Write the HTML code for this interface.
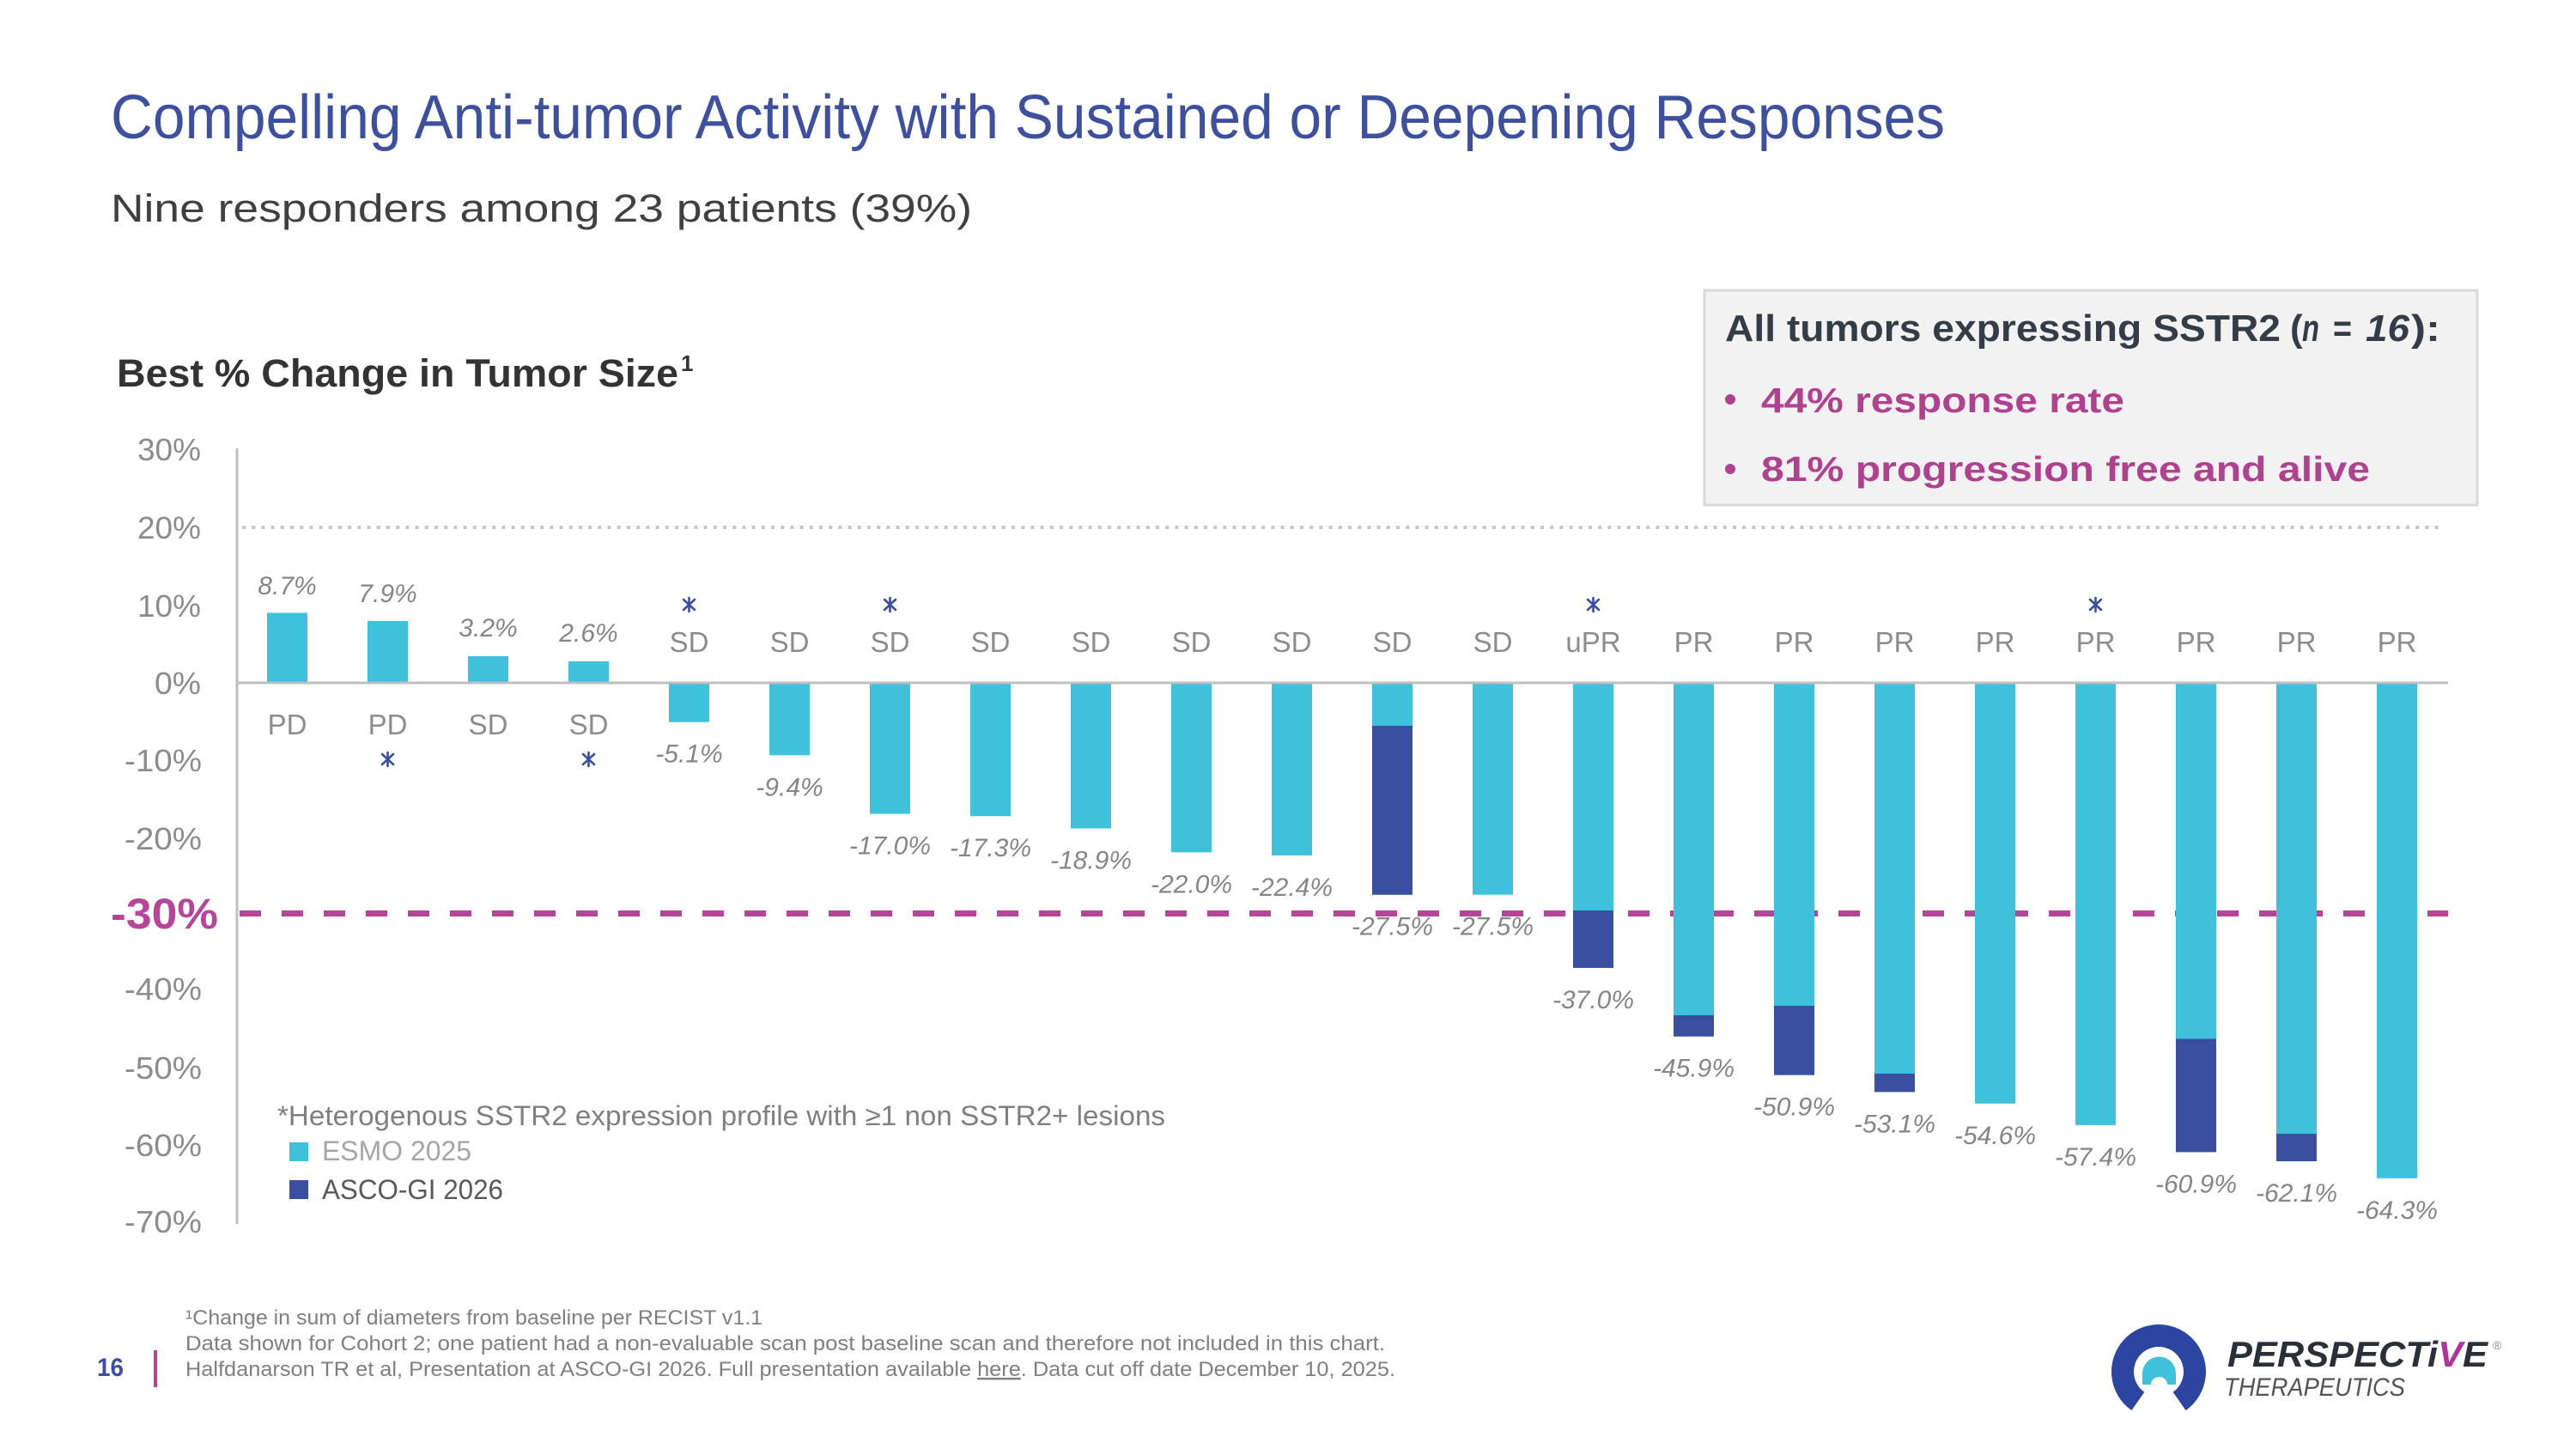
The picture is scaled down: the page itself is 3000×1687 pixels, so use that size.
<!DOCTYPE html>
<html>
<head>
<meta charset="utf-8">
<style>
  html,body{margin:0;padding:0;background:#fff;}
  svg{display:block;}
  text{font-family:"Liberation Sans", Arial, sans-serif;}
</style>
</head>
<body>
<svg xmlns="http://www.w3.org/2000/svg" width="3000" height="1687" viewBox="0 0 3000 1687">
  <rect x="0" y="0" width="3000" height="1687" fill="#ffffff"/>

  <!-- Title / subtitle -->
  <text x="129" y="161" font-size="72" fill="#3d4f9f" textLength="2136" lengthAdjust="spacingAndGlyphs">Compelling Anti-tumor Activity with Sustained or Deepening Responses</text>
  <text x="129" y="258" font-size="45" fill="#404040" textLength="1003" lengthAdjust="spacingAndGlyphs">Nine responders among 23 patients (39%)</text>

  <!-- Chart heading -->
  <text x="136" y="450" font-size="45" font-weight="bold" fill="#333333" textLength="654" lengthAdjust="spacingAndGlyphs">Best % Change in Tumor Size</text>
  <text x="793" y="432" font-size="26" font-weight="bold" fill="#333333">1</text>

  <!-- Info box -->
  <rect x="1985" y="338" width="900" height="250" fill="#f2f2f2" stroke="#d9d9d9" stroke-width="3"/>
  <text x="2009" y="397" font-size="44" font-weight="bold" fill="#333d47" textLength="647" lengthAdjust="spacingAndGlyphs">All tumors expressing SSTR2</text>
  <text x="2667" y="397" font-size="44" font-weight="bold" fill="#333d47">(</text>
  <text x="2681" y="397" font-size="44" font-weight="bold" font-style="italic" fill="#333d47" textLength="20" lengthAdjust="spacingAndGlyphs">n</text>
  <text x="2717" y="397" font-size="44" font-weight="bold" fill="#333d47" textLength="22" lengthAdjust="spacingAndGlyphs">=</text>
  <text x="2755" y="397" font-size="44" font-weight="bold" font-style="italic" fill="#333d47" textLength="51" lengthAdjust="spacingAndGlyphs">16</text>
  <text x="2808" y="397" font-size="44" font-weight="bold" fill="#333d47" textLength="34" lengthAdjust="spacingAndGlyphs">):</text>
  <circle cx="2015" cy="465" r="6" fill="#b0418f"/>
  <text x="2051" y="480" font-size="41" font-weight="bold" fill="#b0418f" textLength="423" lengthAdjust="spacingAndGlyphs">44% response rate</text>
  <circle cx="2015" cy="546" r="6" fill="#b0418f"/>
  <text x="2051" y="560" font-size="41" font-weight="bold" fill="#b0418f" textLength="709" lengthAdjust="spacingAndGlyphs">81% progression free and alive</text>

  <!-- Y tick labels -->
  <g font-size="36" fill="#8c8c8c" text-anchor="end">
    <text x="234" y="536" textLength="74" lengthAdjust="spacingAndGlyphs">30%</text>
    <text x="234" y="627" textLength="74" lengthAdjust="spacingAndGlyphs">20%</text>
    <text x="234" y="718" textLength="74" lengthAdjust="spacingAndGlyphs">10%</text>
    <text x="234" y="808" textLength="54" lengthAdjust="spacingAndGlyphs">0%</text>
    <text x="235" y="898" textLength="90" lengthAdjust="spacingAndGlyphs">-10%</text>
    <text x="235" y="989" textLength="90" lengthAdjust="spacingAndGlyphs">-20%</text>
    <text x="235" y="1164" textLength="90" lengthAdjust="spacingAndGlyphs">-40%</text>
    <text x="235" y="1256" textLength="90" lengthAdjust="spacingAndGlyphs">-50%</text>
    <text x="235" y="1346" textLength="90" lengthAdjust="spacingAndGlyphs">-60%</text>
    <text x="235" y="1435" textLength="90" lengthAdjust="spacingAndGlyphs">-70%</text>
  </g>
  <text x="129" y="1081" font-size="50" font-weight="bold" fill="#b5449a" textLength="125" lengthAdjust="spacingAndGlyphs">-30%</text>

  <!-- Reference lines -->
  <line x1="282" y1="614" x2="2840" y2="614" stroke="#c8c8c8" stroke-width="4" stroke-dasharray="4 7.2"/>
  <line x1="279" y1="1063.5" x2="2851" y2="1063.5" stroke="#b5449a" stroke-width="7" stroke-dasharray="25 24"/>

  <!-- Bars (cyan) -->
  <g fill="#3ec1db">
    <rect x="311" y="713.5" width="47" height="81.5"/>
    <rect x="428" y="723" width="47" height="72"/>
    <rect x="545" y="764" width="47" height="31"/>
    <rect x="662" y="770" width="47" height="25"/>
    <rect x="779" y="795" width="47" height="45.7"/>
    <rect x="896" y="795" width="47" height="84.3"/>
    <rect x="1013" y="795" width="47" height="152.5"/>
    <rect x="1130" y="795" width="47" height="155.2"/>
    <rect x="1247" y="795" width="47" height="169.5"/>
    <rect x="1364" y="795" width="47" height="197.3"/>
    <rect x="1481" y="795" width="47" height="200.9"/>
    <rect x="1598" y="795" width="47" height="246.7"/>
    <rect x="1715" y="795" width="47" height="246.7"/>
    <rect x="1832" y="795" width="47" height="331.9"/>
    <rect x="1949" y="795" width="47" height="411.7"/>
    <rect x="2066" y="795" width="47" height="456.6"/>
    <rect x="2183" y="795" width="47" height="476.3"/>
    <rect x="2300" y="795" width="47" height="489.8"/>
    <rect x="2417" y="795" width="47" height="514.9"/>
    <rect x="2534" y="795" width="47" height="546.3"/>
    <rect x="2651" y="795" width="47" height="557"/>
    <rect x="2768" y="795" width="47" height="576.8"/>
  </g>
  <!-- Bars (dark, ASCO-GI 2026) -->
  <g fill="#3a4f9f">
    <rect x="1598" y="845" width="47" height="196.7"/>
    <rect x="1832" y="1060" width="47" height="66.9"/>
    <rect x="1949" y="1182" width="47" height="24.7"/>
    <rect x="2066" y="1171" width="47" height="80.6"/>
    <rect x="2183" y="1250" width="47" height="21.3"/>
    <rect x="2534" y="1209.5" width="47" height="131.8"/>
    <rect x="2651" y="1320" width="47" height="32"/>
  </g>

  <!-- Axes -->
  <line x1="276" y1="522" x2="276" y2="1425" stroke="#bfbfbf" stroke-width="3"/>
  <line x1="276" y1="795" x2="2851" y2="795" stroke="#bfbfbf" stroke-width="3"/>

  <!-- Value labels -->
  <g font-size="30" font-style="italic" fill="#858585" text-anchor="middle">
    <text x="334.5" y="692">8.7%</text>
    <text x="451.5" y="701">7.9%</text>
    <text x="568.5" y="741">3.2%</text>
    <text x="685.5" y="747">2.6%</text>
    <text x="802.5" y="887.7">-5.1%</text>
    <text x="919.5" y="926.3">-9.4%</text>
    <text x="1036.5" y="994.5">-17.0%</text>
    <text x="1153.5" y="997.2">-17.3%</text>
    <text x="1270.5" y="1011.5">-18.9%</text>
    <text x="1387.5" y="1039.3">-22.0%</text>
    <text x="1504.5" y="1042.9">-22.4%</text>
    <text x="1621.5" y="1088.7">-27.5%</text>
    <text x="1738.5" y="1088.7">-27.5%</text>
    <text x="1855.5" y="1173.9">-37.0%</text>
    <text x="1972.5" y="1253.7">-45.9%</text>
    <text x="2089.5" y="1298.6">-50.9%</text>
    <text x="2206.5" y="1318.3">-53.1%</text>
    <text x="2323.5" y="1331.8">-54.6%</text>
    <text x="2440.5" y="1356.9">-57.4%</text>
    <text x="2557.5" y="1388.3">-60.9%</text>
    <text x="2674.5" y="1399">-62.1%</text>
    <text x="2791.5" y="1418.8">-64.3%</text>
  </g>

  <!-- Category labels -->
  <g font-size="33" fill="#8c8c8c" text-anchor="middle">
    <text x="334.5" y="855">PD</text>
    <text x="451.5" y="855">PD</text>
    <text x="568.5" y="855">SD</text>
    <text x="685.5" y="855">SD</text>
    <text x="802.5" y="759">SD</text>
    <text x="919.5" y="759">SD</text>
    <text x="1036.5" y="759">SD</text>
    <text x="1153.5" y="759">SD</text>
    <text x="1270.5" y="759">SD</text>
    <text x="1387.5" y="759">SD</text>
    <text x="1504.5" y="759">SD</text>
    <text x="1621.5" y="759">SD</text>
    <text x="1738.5" y="759">SD</text>
    <text x="1855.5" y="759">uPR</text>
    <text x="1972.5" y="759">PR</text>
    <text x="2089.5" y="759">PR</text>
    <text x="2206.5" y="759">PR</text>
    <text x="2323.5" y="759">PR</text>
    <text x="2440.5" y="759">PR</text>
    <text x="2557.5" y="759">PR</text>
    <text x="2674.5" y="759">PR</text>
    <text x="2791.5" y="759">PR</text>
  </g>

  <!-- Asterisk markers -->
  <g stroke="#3a4f9f" stroke-width="2.6" stroke-linecap="round" fill="none">
    <path d="M802.5 696 V712 M796 698 L809 710 M809 698 L796 710"/>
    <path d="M1036.5 696 V712 M1030 698 L1043 710 M1043 698 L1030 710"/>
    <path d="M1855.5 696 V712 M1849 698 L1862 710 M1862 698 L1849 710"/>
    <path d="M2440.5 696 V712 M2434 698 L2447 710 M2447 698 L2434 710"/>
    <path d="M451.5 876 V892 M445 878 L458 890 M458 878 L445 890"/>
    <path d="M685.5 876 V892 M679 878 L692 890 M692 878 L679 890"/>
  </g>

  <!-- Legend -->
  <text x="323" y="1310" font-size="32" fill="#7f7f7f" textLength="1034" lengthAdjust="spacingAndGlyphs">*Heterogenous SSTR2 expression profile with ≥1 non SSTR2+ lesions</text>
  <rect x="337" y="1330" width="22" height="22" fill="#3ec1db"/>
  <text x="375" y="1351" font-size="32" fill="#a6a6a6" textLength="174" lengthAdjust="spacingAndGlyphs">ESMO 2025</text>
  <rect x="337" y="1374" width="22" height="22" fill="#3a4f9f"/>
  <text x="375" y="1396" font-size="32" fill="#595959" textLength="211" lengthAdjust="spacingAndGlyphs">ASCO-GI 2026</text>

  <!-- Footnotes -->
  <g font-size="24" fill="#7f7f7f">
    <text x="216" y="1542" textLength="672" lengthAdjust="spacingAndGlyphs">¹Change in sum of diameters from baseline per RECIST v1.1</text>
    <text x="216" y="1572" textLength="1397" lengthAdjust="spacingAndGlyphs">Data shown for Cohort 2; one patient had a non-evaluable scan post baseline scan and therefore not included in this chart.</text>
    <text x="216" y="1602" textLength="1409" lengthAdjust="spacingAndGlyphs">Halfdanarson TR et al, Presentation at ASCO-GI 2026. Full presentation available <tspan text-decoration="underline">here</tspan>. Data cut off date December 10, 2025.</text>
  </g>

  <!-- Page number -->
  <text x="113" y="1602" font-size="30" font-weight="bold" fill="#3a4f9f" textLength="31" lengthAdjust="spacingAndGlyphs">16</text>
  <rect x="179" y="1572" width="4" height="43" fill="#b5449a"/>

  <!-- Logo -->
  <path d="M2489.9 1631.4 A42 42 0 1 1 2538.1 1631.4" fill="none" stroke="#2b45a0" stroke-width="26"/>
  <path d="M2495 1612 L2495 1599 A19.5 19.5 0 0 1 2534 1599 L2534 1612 L2524 1612 A9.5 9 0 0 0 2505 1612 Z" fill="#3ec1db"/>
  <text x="2594" y="1591" font-size="42" font-weight="bold" font-style="italic" fill="#2b2f3a" textLength="303" lengthAdjust="spacingAndGlyphs">PERSPECT<tspan fill="#2b2f3a">i</tspan><tspan fill="#b5309a">V</tspan>E</text>
  <text x="2903" y="1571" font-size="14" fill="#8c8c8c">®</text>
  <text x="2590" y="1625" font-size="30" font-style="italic" fill="#555555" textLength="211" lengthAdjust="spacingAndGlyphs">THERAPEUTICS</text>
</svg>
</body>
</html>
